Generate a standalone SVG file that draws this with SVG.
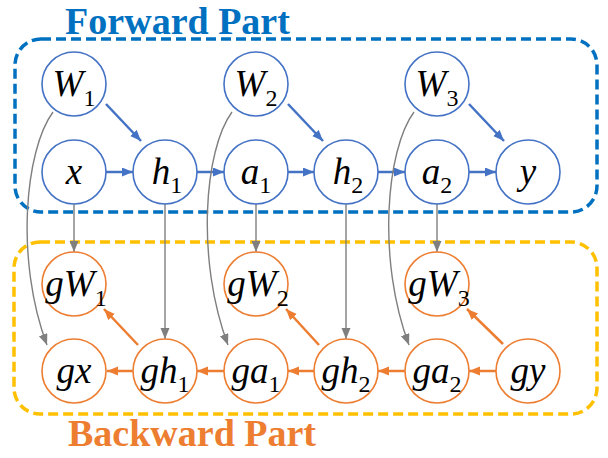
<svg xmlns="http://www.w3.org/2000/svg" width="608" height="458" viewBox="0 0 608 458">
<style>
.fn{fill:#fff;stroke:#4472C4;stroke-width:1.6}
.bn{fill:#fff;stroke:#ED7D31;stroke-width:1.6}
.lb{font-family:"Liberation Serif","Times New Roman",serif;font-style:italic;font-size:37px;fill:#000;text-anchor:middle}
.sb{font-style:normal;font-size:24px}
.fa{stroke:#4472C4;stroke-width:2.5;fill:none;marker-end:url(#ab)}
.ba{stroke:#ED7D31;stroke-width:2.5;fill:none;marker-end:url(#ao)}
.ga{stroke:#7F7F7F;stroke-width:1.4;fill:none;marker-end:url(#ag)}
.ttl{font-family:"Liberation Serif","Times New Roman",serif;font-weight:bold;font-size:38px;text-anchor:middle}
</style>
<defs>
<marker id="ab" markerUnits="userSpaceOnUse" markerWidth="12" markerHeight="10" refX="11" refY="4.5" orient="auto"><path d="M0,0 L11,4.5 L0,9 z" fill="#4472C4"/></marker>
<marker id="ao" markerUnits="userSpaceOnUse" markerWidth="12" markerHeight="10" refX="11" refY="4.5" orient="auto"><path d="M0,0 L11,4.5 L0,9 z" fill="#ED7D31"/></marker>
<marker id="ag" markerUnits="userSpaceOnUse" markerWidth="12" markerHeight="10" refX="11" refY="4.5" orient="auto"><path d="M0,0 L11,4.5 L0,9 z" fill="#7F7F7F"/></marker>
</defs>
<rect width="608" height="458" fill="#fff"/>
<g id="forward-box">
<rect x="15" y="39" width="582" height="173" rx="26" fill="none" stroke="#0070C0" stroke-width="3.5" stroke-dasharray="10 5"/>
<text class="ttl" x="177.5" y="34" fill="#0070C0">Forward Part</text>
</g>
<g id="backward-box">
<rect x="14" y="242" width="583" height="172" rx="26" fill="none" stroke="#FFC000" stroke-width="3.5" stroke-dasharray="10 5"/>
<text class="ttl" x="192" y="446" fill="#ED7D31">Backward Part</text>
</g>
<g id="connectors">
<line class="fa" x1="106" y1="172" x2="133" y2="172"/>
<line class="fa" x1="197" y1="172" x2="224" y2="172"/>
<line class="fa" x1="288" y1="172" x2="314" y2="172"/>
<line class="fa" x1="378" y1="172" x2="405" y2="172"/>
<line class="fa" x1="469" y1="172" x2="496" y2="172"/>
<line class="fa" x1="106" y1="104" x2="141" y2="141"/>
<line class="fa" x1="288" y1="104" x2="323" y2="141"/>
<line class="fa" x1="469" y1="104" x2="504" y2="141"/>
<line class="ga" x1="74" y1="204" x2="74" y2="252"/>
<line class="ga" x1="256" y1="204" x2="256" y2="252"/>
<line class="ga" x1="437" y1="204" x2="437" y2="252"/>
<line class="ga" x1="165" y1="204" x2="165" y2="339"/>
<line class="ga" x1="346" y1="204" x2="346" y2="339"/>
<path class="ga" d="M53,112 C25,150 15,260 47,345"/>
<path class="ga" d="M232,112 C204,150 196,260 228,345"/>
<path class="ga" d="M414,112 C386,150 377,260 409,345"/>
<line class="ba" x1="133" y1="371" x2="107" y2="371"/>
<line class="ba" x1="224" y1="371" x2="197" y2="371"/>
<line class="ba" x1="314" y1="371" x2="288" y2="371"/>
<line class="ba" x1="405" y1="371" x2="378" y2="371"/>
<line class="ba" x1="496" y1="371" x2="469" y2="371"/>
<line class="ba" x1="138" y1="345" x2="104" y2="309"/>
<line class="ba" x1="319" y1="345" x2="286" y2="309"/>
<line class="ba" x1="503" y1="344" x2="467" y2="309"/>
</g>
<g id="W1"><circle class="fn" cx="74" cy="84" r="32"/><text class="lb" x="74" y="96">W<tspan class="sb" dy="10">1</tspan></text></g>
<g id="W2"><circle class="fn" cx="256" cy="84" r="32"/><text class="lb" x="256" y="96">W<tspan class="sb" dy="10">2</tspan></text></g>
<g id="W3"><circle class="fn" cx="437" cy="84" r="32"/><text class="lb" x="437" y="96">W<tspan class="sb" dy="10">3</tspan></text></g>
<g id="x"><circle class="fn" cx="74" cy="172" r="32"/><text class="lb" x="74" y="184">x</text></g>
<g id="h1"><circle class="fn" cx="165" cy="172" r="32"/><text class="lb" x="167" y="184">h<tspan class="sb" dy="9">1</tspan></text></g>
<g id="a1"><circle class="fn" cx="256" cy="172" r="32"/><text class="lb" x="256" y="184">a<tspan class="sb" dy="9">1</tspan></text></g>
<g id="h2"><circle class="fn" cx="346" cy="172" r="32"/><text class="lb" x="348" y="184">h<tspan class="sb" dy="9">2</tspan></text></g>
<g id="a2"><circle class="fn" cx="437" cy="172" r="32"/><text class="lb" x="437" y="184">a<tspan class="sb" dy="9">2</tspan></text></g>
<g id="y"><circle class="fn" cx="528" cy="172" r="32"/><text class="lb" x="528" y="184">y</text></g>
<g id="gW1"><circle class="bn" cx="74" cy="284" r="32"/><text class="lb" x="76" y="296">gW<tspan class="sb" dy="10">1</tspan></text></g>
<g id="gW2"><circle class="bn" cx="256" cy="284" r="32"/><text class="lb" x="258" y="296">gW<tspan class="sb" dy="10">2</tspan></text></g>
<g id="gW3"><circle class="bn" cx="437" cy="284" r="32"/><text class="lb" x="439" y="296">gW<tspan class="sb" dy="10">3</tspan></text></g>
<g id="gx"><circle class="bn" cx="74" cy="371" r="32"/><text class="lb" x="74" y="383">gx</text></g>
<g id="gh1"><circle class="bn" cx="165" cy="371" r="32"/><text class="lb" x="165" y="383">gh<tspan class="sb" dy="9">1</tspan></text></g>
<g id="ga1"><circle class="bn" cx="256" cy="371" r="32"/><text class="lb" x="256" y="383">ga<tspan class="sb" dy="9">1</tspan></text></g>
<g id="gh2"><circle class="bn" cx="346" cy="371" r="32"/><text class="lb" x="346" y="383">gh<tspan class="sb" dy="9">2</tspan></text></g>
<g id="ga2"><circle class="bn" cx="437" cy="371" r="32"/><text class="lb" x="437" y="383">ga<tspan class="sb" dy="9">2</tspan></text></g>
<g id="gy"><circle class="bn" cx="528" cy="371" r="32"/><text class="lb" x="528" y="383">gy</text></g>
</svg>
